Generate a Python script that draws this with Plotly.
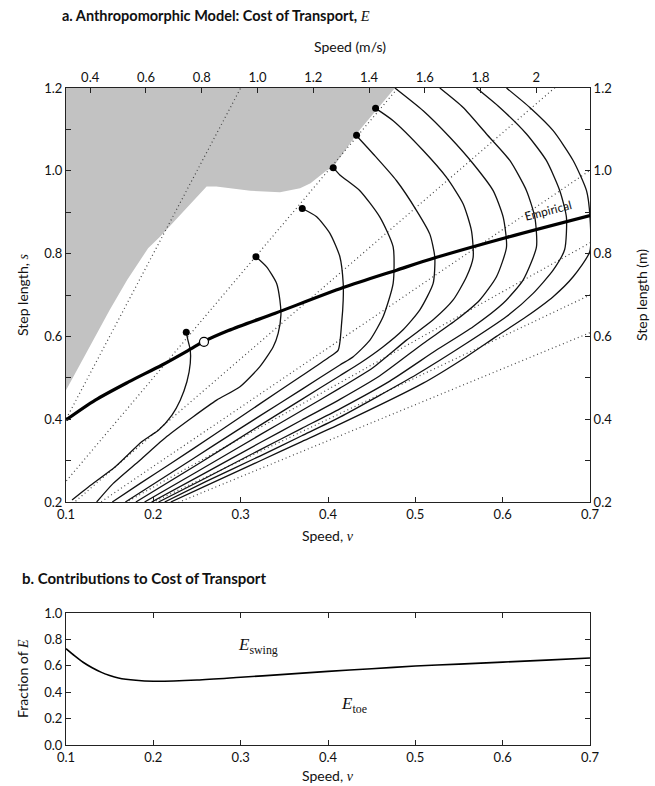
import plotly.graph_objects as go

# ---------------- data ----------------
# panel a : iso-cost contours (speed v, step length s)
c1_v = [0.2377, 0.2396, 0.2423, 0.2423, 0.2385, 0.2308, 0.2213, 0.2061, 0.187, 0.1564, 0.126, 0.1069]
c1_s = [0.610, 0.591, 0.567, 0.535, 0.491, 0.446, 0.410, 0.374, 0.346, 0.285, 0.237, 0.205]

c2_v = [0.3175, 0.3297, 0.3412, 0.3449, 0.3461, 0.343, 0.3373, 0.322, 0.2992, 0.2725, 0.2457, 0.2153, 0.1847, 0.1541, 0.1351]
c2_s = [0.7925, 0.768, 0.728, 0.688, 0.652, 0.608, 0.575, 0.527, 0.4785, 0.446, 0.406, 0.358, 0.301, 0.245, 0.200]

c3_v = [0.3705, 0.387, 0.4022, 0.4136, 0.4174, 0.4174, 0.4156, 0.4117, 0.400, 0.370, 0.322, 0.270, 0.220, 0.185, 0.153]
c3_s = [0.909, 0.889, 0.849, 0.7925, 0.728, 0.688, 0.632, 0.567, 0.548, 0.505, 0.437, 0.363, 0.293, 0.245, 0.200]

c4_v = [0.406, 0.4136, 0.4365, 0.4594, 0.4746, 0.4746, 0.4632, 0.448, 0.4289, 0.4136, 0.370, 0.322, 0.270, 0.220, 0.168]
c4_s = [1.0075, 0.990, 0.952, 0.888, 0.816, 0.728, 0.648, 0.591, 0.551, 0.531, 0.472, 0.408, 0.338, 0.270, 0.200]

c5_v = [0.4319, 0.4518, 0.4785, 0.5014, 0.5166, 0.5223, 0.5204, 0.5052, 0.486, 0.4632, 0.4365, 0.4136, 0.370, 0.322, 0.250, 0.180]
c5_s = [1.0865, 1.0406, 0.976, 0.904, 0.847, 0.791, 0.728, 0.664, 0.616, 0.575, 0.535, 0.505, 0.448, 0.385, 0.290, 0.200]

c6_v = [0.4537, 0.4746, 0.509, 0.5357, 0.5548, 0.5643, 0.5662, 0.5586, 0.5433, 0.5204, 0.4899, 0.4518, 0.4136, 0.370, 0.322, 0.250, 0.190]
c6_s = [1.152, 1.121, 1.049, 0.984, 0.920, 0.855, 0.791, 0.744, 0.688, 0.640, 0.591, 0.525, 0.475, 0.421, 0.362, 0.273, 0.200]

c7_v = [0.4766, 0.509, 0.5395, 0.5662, 0.5891, 0.6006, 0.6044, 0.5929, 0.5738, 0.5471, 0.509, 0.4594, 0.4136, 0.370, 0.322, 0.260, 0.198]
c7_s = [1.200, 1.145, 1.081, 1.017, 0.952, 0.888, 0.816, 0.744, 0.688, 0.640, 0.583, 0.505, 0.448, 0.398, 0.343, 0.271, 0.200]

c8_v = [0.528, 0.5548, 0.5815, 0.6082, 0.6273, 0.6368, 0.6387, 0.6234, 0.6006, 0.5662, 0.5242, 0.4708, 0.4136, 0.370, 0.322, 0.260, 0.206]
c8_s = [1.200, 1.153, 1.089, 1.025, 0.952, 0.888, 0.816, 0.736, 0.680, 0.6235, 0.567, 0.492, 0.425, 0.378, 0.326, 0.258, 0.200]

c9_v = [0.570, 0.5967, 0.6273, 0.650, 0.6654, 0.673, 0.671, 0.6578, 0.6349, 0.6044, 0.5586, 0.5014, 0.4136, 0.370, 0.322, 0.260, 0.213]
c9_s = [1.200, 1.153, 1.089, 1.025, 0.952, 0.888, 0.810, 0.760, 0.704, 0.648, 0.5833, 0.508, 0.405, 0.360, 0.311, 0.249, 0.200]

c10_v = [0.6044, 0.6311, 0.6578, 0.6807, 0.696, 0.700, 0.6998, 0.6807, 0.6578, 0.6273, 0.5929, 0.5586, 0.509, 0.4136, 0.370, 0.322, 0.260, 0.220]
c10_s = [1.200, 1.153, 1.097, 1.025, 0.952, 0.888, 0.805, 0.744, 0.696, 0.648, 0.600, 0.551, 0.487, 0.388, 0.346, 0.299, 0.239, 0.200]

contours_v = [c1_v, c2_v, c3_v, c4_v, c5_v, c6_v, c7_v, c8_v, c9_v, c10_v]
contours_s = [c1_s, c2_s, c3_s, c4_s, c5_s, c6_s, c7_s, c8_s, c9_s, c10_s]

# optimum points (filled dots) and the empirical optimum (open circle)
dots_v = [0.2377, 0.3175, 0.3705, 0.406, 0.4327, 0.4545]
dots_s = [0.610, 0.7925, 0.909, 1.0075, 1.0857, 1.151]
open_v = [0.258]
open_s = [0.587]

# empirical step length curve
emp_v = [0.100, 0.1335, 0.1717, 0.210, 0.2423, 0.2572, 0.286, 0.3396, 0.4174, 0.4785, 0.5243, 0.6044, 0.700]
emp_s = [0.398, 0.446, 0.490, 0.531, 0.569, 0.587, 0.614, 0.656, 0.718, 0.760, 0.791, 0.839, 0.892]

# dotted lines of constant step frequency: step length per unit speed
freq_slopes = [4.0, 2.5, 1.82, 1.43, 1.18, 1.0, 0.87]

# shaded infeasible region boundary
gray_v = [0.1, 0.4766, 0.4365, 0.406, 0.398, 0.380, 0.368, 0.345, 0.311, 0.272, 0.261, 0.2076, 0.194, 0.170, 0.150, 0.1]
gray_s = [1.2, 1.2, 1.099, 1.009, 1.000, 0.970, 0.958, 0.948, 0.952, 0.962, 0.962, 0.841, 0.813, 0.736, 0.664, 0.470]

# top axis: dimensional speed (m/s) = v * sqrt(g L)
speed_scale = 3.132
top_ticks = [0.4, 0.6, 0.8, 1.0, 1.2, 1.4, 1.6, 1.8, 2.0]
top_labels = ["0.4", "0.6", "0.8", "1.0", "1.2", "1.4", "1.6", "1.8", "2"]

# panel b : fraction of E due to swing
frac_v = [0.10, 0.11, 0.12, 0.13, 0.14, 0.15, 0.16, 0.18, 0.20, 0.25, 0.30, 0.35, 0.40, 0.45, 0.50, 0.55, 0.60, 0.65, 0.70]
frac_e = [0.73, 0.675, 0.625, 0.585, 0.552, 0.527, 0.508, 0.490, 0.483, 0.492, 0.513, 0.535, 0.558, 0.578, 0.598, 0.613, 0.628, 0.643, 0.659]

# ---------------- figure ----------------
W, H = 655, 786
FONT = "Lato, 'Open Sans', sans-serif"
SERIF = "'Liberation Serif', 'DejaVu Serif', serif"

def px(xp):
    return xp / W

def py(yp):
    return (H - yp) / H

fig = go.Figure()

fig.add_trace(go.Scatter(x=gray_v, y=gray_s, fill="toself", fillcolor="#c2c2c2",
                         line=dict(width=0), mode="lines", hoverinfo="skip",
                         xaxis="x", yaxis="y", showlegend=False))

for r in freq_slopes:
    fig.add_trace(go.Scatter(x=[0.0, 0.8], y=[0.0, 0.8 * r], mode="lines",
                             line=dict(color="#444444", width=1.2, dash="1px,3px"),
                             xaxis="x", yaxis="y", showlegend=False, hoverinfo="skip"))

for cv, cs in zip(contours_v, contours_s):
    fig.add_trace(go.Scatter(x=cv, y=cs, mode="lines",
                             line=dict(color="#111111", width=1.3, shape="spline", smoothing=0.6),
                             xaxis="x", yaxis="y", showlegend=False, hoverinfo="skip"))

fig.add_trace(go.Scatter(x=emp_v, y=emp_s, mode="lines",
                         line=dict(color="#000000", width=3.2, shape="spline", smoothing=0.8),
                         xaxis="x", yaxis="y", showlegend=False))

fig.add_trace(go.Scatter(x=dots_v, y=dots_s, mode="markers",
                         marker=dict(color="#000000", size=7),
                         xaxis="x", yaxis="y", showlegend=False))
fig.add_trace(go.Scatter(x=open_v, y=open_s, mode="markers",
                         marker=dict(color="#ffffff", size=9, line=dict(color="#000000", width=1.2)),
                         xaxis="x", yaxis="y", showlegend=False))

fig.add_trace(go.Scatter(x=[0.1 * speed_scale, 0.7 * speed_scale], y=[0.2, 1.2], mode="markers",
                         marker=dict(opacity=0), xaxis="x3", yaxis="y3", showlegend=False, hoverinfo="skip"))

fig.add_trace(go.Scatter(x=frac_v, y=frac_e, mode="lines",
                         line=dict(color="#000000", width=1.6, shape="spline", smoothing=0.8),
                         xaxis="x2", yaxis="y2", showlegend=False))

dom_x = [px(66), px(590)]
dom_ya = [py(502), py(88)]
dom_yb = [py(745), py(613)]

tick_font = dict(family=FONT, size=13, color="#111111")
common = dict(showgrid=False, zeroline=False, showline=True, linecolor="#222222", linewidth=1,
              ticks="inside", ticklen=5, tickcolor="#222222", tickfont=tick_font, automargin=False)

major_y = [0.2, 0.4, 0.6, 0.8, 1.0, 1.2]
major_y_text = ["0.2", "0.4", "0.6", "0.8", "1.0", "1.2"]
minor_y = dict(tickmode="array", tickvals=[0.3, 0.5, 0.7, 0.9, 1.1], ticks="inside",
               ticklen=5, tickcolor="#222222", showgrid=False)
bottom_vals = [0.1, 0.2, 0.3, 0.4, 0.5, 0.6, 0.7]
bottom_text = ["0.1", "0.2", "0.3", "0.4", "0.5", "0.6", "0.7"]

fig.update_layout(
    width=W, height=H, margin=dict(l=0, r=0, t=0, b=0, autoexpand=False),
    paper_bgcolor="white", plot_bgcolor="white",
    font=dict(family=FONT, color="#111111"),
    xaxis=dict(domain=dom_x, range=[0.1, 0.7], anchor="y", side="bottom",
               tickvals=bottom_vals, ticktext=bottom_text, **common),
    yaxis=dict(domain=dom_ya, range=[0.2, 1.2], anchor="x", side="left",
               tickvals=major_y, ticktext=major_y_text, minor=minor_y, **common),
    xaxis3=dict(overlaying="x", range=[0.1 * speed_scale, 0.7 * speed_scale], anchor="y", side="top",
                tickvals=top_ticks, ticktext=top_labels, **common),
    yaxis3=dict(overlaying="y", range=[0.2, 1.2], anchor="x", side="right",
                tickvals=major_y, ticktext=major_y_text, minor=minor_y, **common),
    xaxis2=dict(domain=dom_x, range=[0.1, 0.7], anchor="y2",
                tickvals=bottom_vals, ticktext=bottom_text, mirror="ticks", **common),
    yaxis2=dict(domain=dom_yb, range=[0.0, 1.0], anchor="x2",
                tickvals=[0.0, 0.2, 0.4, 0.6, 0.8, 1.0],
                ticktext=["0.0", "0.2", "0.4", "0.6", "0.8", "1.0"], mirror="ticks", **common),
)

ann = []
def A(text, x, y, size=14, angle=0, xanchor="center", font=FONT):
    ann.append(dict(text=text, x=x, y=y, xref="paper", yref="paper", showarrow=False,
                    textangle=angle, xanchor=xanchor, yanchor="middle",
                    font=dict(family=font, size=size, color="#111111")))

A("<b>a. Anthropomorphic Model: Cost of Transport, </b><span style='font-family:Liberation Serif'><i>E</i></span>",
  px(60), py(16), size=14.5, xanchor="left")
A("Speed (m/s)", px(350), py(46), size=14)
A("Speed, <span style='font-family:Liberation Serif'><i>v</i></span>", px(328), py(535), size=14)
A("Step length, <span style='font-family:Liberation Serif'><i>s</i></span>", px(22), py(295), size=14, angle=-90)
A("Step length (m)", px(641), py(295), size=14, angle=-90)
A("<b>b. Contributions to Cost of Transport</b>", px(20), py(578), size=15, xanchor="left")
A("Fraction of <span style='font-family:Liberation Serif'><i>E</i></span>", px(22), py(679), size=14, angle=-90)
A("Speed, <span style='font-family:Liberation Serif'><i>v</i></span>", px(328), py(775), size=14)

ann.append(dict(text="Empirical", x=0.652, y=0.905, xref="x", yref="y", showarrow=False,
                textangle=-14.5, font=dict(family=FONT, size=12, color="#111111")))
ann.append(dict(text="<i>E</i><sub>swing</sub>", x=0.32, y=0.75, xref="x2", yref="y2", showarrow=False,
                font=dict(family=SERIF, size=17, color="#111111")))
ann.append(dict(text="<i>E</i><sub>toe</sub>", x=0.43, y=0.30, xref="x2", yref="y2", showarrow=False,
                font=dict(family=SERIF, size=17, color="#111111")))

fig.update_layout(annotations=ann)
fig.write_html("out.html", config={"displayModeBar": False},
               post_script="document.body.style.margin='0';document.body.style.overflow='hidden';")
